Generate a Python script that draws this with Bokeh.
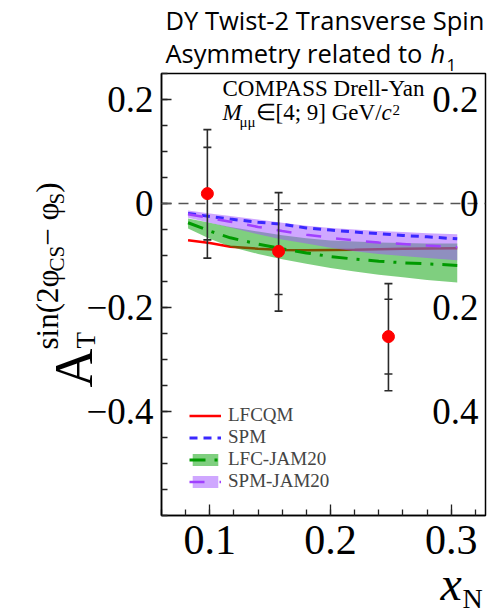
from math import pi
import numpy as np
from bokeh.plotting import figure
from bokeh.models import Range1d, FixedTicker, Span, Label, Legend, LegendItem, GridBox
from bokeh.embed import file_html
from bokeh.resources import INLINE

# ---------------- data ----------------
x_data = [0.098, 0.157, 0.248]
y_data = [0.019, -0.092, -0.256]
stat_hi = [0.108, -0.012, -0.184]
stat_lo = [-0.070, -0.175, -0.328]
tot_hi = [0.142, 0.021, -0.154]
tot_lo = [-0.105, -0.207, -0.360]

x_curve = [0.082, 0.10, 0.117, 0.14, 0.16, 0.18, 0.20, 0.22, 0.24, 0.26, 0.28, 0.305]
lfcqm = [-0.0705, -0.076, -0.083, -0.087, -0.0895, -0.090, -0.0895, -0.089, -0.088, -0.087, -0.0865, -0.086]
spm = [-0.019, -0.025, -0.030, -0.036, -0.040, -0.047, -0.051, -0.055, -0.058, -0.0615, -0.064, -0.068]
lfc_jam_mid = [-0.037, -0.053, -0.066, -0.078, -0.087, -0.095, -0.102, -0.107, -0.111, -0.114, -0.116, -0.119]
lfc_jam_hi = [-0.029, -0.037, -0.045, -0.054, -0.061, -0.067, -0.071, -0.073, -0.075, -0.076, -0.077, -0.077]
lfc_jam_lo = [-0.048, -0.068, -0.083, -0.097, -0.107, -0.116, -0.124, -0.131, -0.137, -0.142, -0.147, -0.152]
spm_jam_mid = [-0.0205, -0.028, -0.035, -0.045, -0.053, -0.060, -0.066, -0.071, -0.075, -0.078, -0.081, -0.084]
spm_jam_hi = [-0.0135, -0.019, -0.024, -0.031, -0.037, -0.043, -0.047, -0.050, -0.053, -0.055, -0.057, -0.059]
spm_jam_lo = [-0.0275, -0.037, -0.046, -0.059, -0.069, -0.077, -0.085, -0.092, -0.097, -0.101, -0.105, -0.109]

y_ticks = [-0.4, -0.2, 0.0, 0.2]
y_tick_labels = ["\u22120.4", "\u22120.2", "0", "0.2"]
y_right_labels = ["0.4", "0.2", "0", "0.2"]
x_ticks = [0.1, 0.2, 0.3]
x_tick_labels = ["0.1", "0.2", "0.3"]
legend_labels = ["LFCQM", "SPM", "LFC-JAM20", "SPM-JAM20"]

SERIF = "Liberation Serif"
W, H = 491, 616
BL = 0.4  # baseline correction (fraction of font size)

p = figure(width=W, height=H,
           x_range=Range1d(0.06, 0.3284), y_range=Range1d(-0.6, 0.25),
           output_backend="svg", toolbar_location=None,
           min_border_left=161, min_border_right=6,
           min_border_top=73, min_border_bottom=101)
p.frame_align = False
p.title.visible = False
p.xgrid.visible = False
p.ygrid.visible = False
p.outline_line_color = "black"
p.outline_line_width = 1.5
p.outline_line_alpha = 1.0
p.background_fill_color = "white"
p.border_fill_color = "white"

xa = p.xaxis[0]
ya = p.yaxis[0]
xa.ticker = FixedTicker(ticks=x_ticks, minor_ticks=list(np.round(np.arange(0.06, 0.33, 0.02), 3)))
ya.ticker = FixedTicker(ticks=y_ticks, minor_ticks=list(np.round(np.arange(-0.6, 0.26, 0.05), 3)))
xa.major_label_overrides = {t: s for t, s in zip(x_ticks, x_tick_labels)}
ya.major_label_overrides = {t: s for t, s in zip(y_ticks, y_tick_labels)}
for ax, fs, tin in ((xa, "42px", 11), (ya, "37px", 10)):
    ax.major_tick_in = tin
    ax.major_tick_out = 0
    ax.minor_tick_in = 6
    ax.minor_tick_out = 0
    ax.axis_line_color = "black"
    ax.axis_line_width = 1.5
    ax.major_tick_line_width = 1.3
    ax.minor_tick_line_width = 1.3
    ax.major_tick_line_color = "#222222"
    ax.minor_tick_line_color = "#222222"
    ax.major_label_text_font = SERIF
    ax.major_label_text_font_size = fs
    ax.major_label_text_color = "black"
xa.major_label_standoff = 10
ya.major_label_standoff = 8

# ---------------- curves & bands ----------------
r_red = p.line(x_curve, lfcqm, line_color="#ff0000", line_width=2.5)
r_gband = p.varea(x=x_curve, y1=lfc_jam_lo, y2=lfc_jam_hi, fill_color="#00a000", fill_alpha=0.5)
r_gline = p.line(x_curve, lfc_jam_mid, line_color="#009a00", line_width=3, line_dash="16 9 3 9")
r_pband = p.varea(x=x_curve, y1=spm_jam_lo, y2=spm_jam_hi, fill_color="#a050ff", fill_alpha=0.5)
r_blue = p.line(x_curve, spm, line_color="#3a28ff", line_width=3, line_dash="8 6")
r_pline = p.line(x_curve, spm_jam_mid, line_color="#a040ff", line_width=2.5, line_dash="15 15")

p.add_layout(Span(location=0, dimension="width", line_color="#555555",
                  line_width=1.5, line_dash="10 7"))

# ---------------- data points ----------------
ebc = "#2a2a2a"
p.segment(x0=x_data, y0=tot_lo, x1=x_data, y1=tot_hi, line_color=ebc, line_width=1.6)
for arr in (tot_lo, tot_hi, stat_lo, stat_hi):
    p.scatter(x=x_data, y=arr, marker="dash", size=8, line_color=ebc, line_width=1.6)
p.scatter(x=x_data, y=y_data, size=12, fill_color="#ff0000", line_color="#ff0000")

# ---------------- legend ----------------
items = [
    LegendItem(label=legend_labels[0], renderers=[r_red]),
    LegendItem(label=legend_labels[1], renderers=[r_blue]),
    LegendItem(label=legend_labels[2], renderers=[r_gband, r_gline]),
    LegendItem(label=legend_labels[3], renderers=[r_pband, r_pline]),
]
legend = Legend(items=items, location=(28, 23), padding=0, margin=0, spacing=0,
                glyph_width=32, glyph_height=15, label_height=20, label_standoff=7,
                label_text_font=SERIF, label_text_font_size="19px",
                background_fill_alpha=0, border_line_alpha=0)
p.add_layout(legend)


def lab(text, x, y, size, font=SERIF, style="normal"):
    # (x, y): frame pixels of the text start on its baseline
    p.add_layout(Label(x=x, y=y + BL * size, x_units="screen", y_units="screen", text=text,
                       text_font=font, text_font_size=f"{size}px", text_font_style=style,
                       text_align="left", text_baseline="alphabetic", text_color="black"))


# right-side labels inside the frame
for tk, s in zip(y_ticks, y_right_labels):
    p.add_layout(Label(x=317, y=tk, x_units="screen", y_units="data", text=s,
                       text_font=SERIF, text_font_size="37px", text_align="right",
                       text_baseline="middle", text_color="black"))

# experiment text
lab("COMPASS Drell-Yan", 61, 417.5, 23)
lab("M", 61, 393.5, 23, style="italic")
lab("\u03bc\u03bc", 78, 388, 15)
lab("\u2208[4; 9] GeV/", 94, 393.5, 23)
lab("c", 220, 393.5, 23, style="italic")
lab("2", 231, 400, 15)

# ---------------- transparent overlay for texts outside the frame ----------------
t = figure(width=W, height=H, x_range=Range1d(0, W), y_range=Range1d(0, H),
           output_backend="svg", toolbar_location=None, min_border=0,
           x_axis_type=None, y_axis_type=None)
t.frame_align = False
t.title.visible = False
t.outline_line_color = None
t.background_fill_alpha = 0
t.border_fill_alpha = 0
t.grid.visible = False


def out(text, x, y, size, font=SERIF, style="normal", rotated=False):
    # (x, y): canvas pixel of the text start on its baseline
    if rotated:
        x, ang = x - BL * size, pi / 2
    else:
        y, ang = y - BL * size, 0.0
    t.add_layout(Label(x=x, y=y, x_units="canvas", y_units="canvas", text=text,
                       text_font=font, text_font_size=f"{size}px", text_font_style=style,
                       angle=ang, text_align="left", text_baseline="alphabetic",
                       text_color="black"))


# title
TF = "Open Sans"
out("DY Twist-2 Transverse Spin", 165, 30, 25.5, font=TF)
out("Asymmetry related to", 165, 63, 25.5, font=TF)
out("h", 430, 63, 25.5, font=TF, style="italic")
out("1", 446, 71, 17, font=TF)

# y-axis title
out("A", 95, 387, 54, rotated=True)
out("T", 96, 348, 27, rotated=True)
out("sin(2\u03c6", 59, 349, 31, rotated=True)
out("CS", 65, 271, 21, rotated=True)
out("\u2212 \u03c6", 59, 245.3, 31, rotated=True)
out("S", 65, 203.9, 21, rotated=True)
out(")", 59, 192.2, 31, rotated=True)

# x-axis title
out("x", 440, 602, 48, style="italic")
out("N", 462, 609, 28)

root = GridBox(children=[(p, 0, 0), (t, 0, 0)])
open("out.html", "w").write(file_html(root, INLINE))
